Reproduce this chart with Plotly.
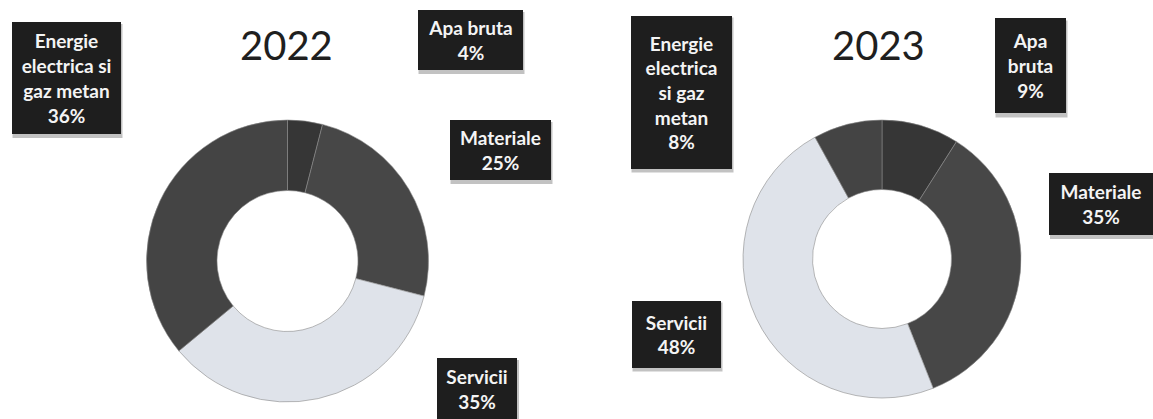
import plotly.graph_objects as go

W, H = 1153, 419

categories = ["Apa bruta", "Materiale", "Servicii", "Energie electrica si gaz metan"]
values_2022 = [4, 25, 35, 36]
values_2023 = [9, 35, 48, 8]

# how each label is wrapped inside its box (differs per year)
wrapped_2022 = ["Apa bruta", "Materiale", "Servicii", "Energie<br>electrica si<br>gaz metan"]
wrapped_2023 = ["Apa<br>bruta", "Materiale", "Servicii", "Energie<br>electrica<br>si gaz<br>metan"]

slice_colors = ["#363636", "#474747", "#dfe3ea", "#444444"]

# label boxes in pixels: centre x, centre y, width, height
boxes_2022 = [(470, 40, 105, 60), (500, 150, 101, 60), (477, 389, 80, 62), (66, 78, 109, 112)]
boxes_2023 = [(1030, 66, 71, 95), (1101, 204, 104, 62), (676, 334, 89, 67), (681, 92, 101, 153)]


def px_domain(cx, cy, r):
    return dict(x=[(cx - r) / W, (cx + r) / W], y=[1 - (cy + r) / H, 1 - (cy - r) / H])


fig = go.Figure()

for vals, dom in [(values_2022, px_domain(287.5, 261, 141)),
                  (values_2023, px_domain(882, 259, 139))]:
    fig.add_trace(go.Pie(
        labels=categories,
        values=vals,
        hole=0.5,
        sort=False,
        direction='clockwise',
        rotation=0,
        textinfo='none',
        hoverinfo='label+percent',
        marker=dict(colors=slice_colors, line=dict(color='#8a8a8a', width=0.6)),
        domain=dom,
        showlegend=False
    ))

annotations = []
for year, cx in [("2022", 286), ("2023", 878)]:
    annotations.append(dict(
        x=cx / W, y=1 - 45 / H, xref='paper', yref='paper',
        text=year, showarrow=False, xanchor='center', yanchor='middle',
        font=dict(family='Lato', size=40, color='#1f1f1f')
    ))

shapes = []
for wrapped, vals, boxes in [(wrapped_2022, values_2022, boxes_2022),
                             (wrapped_2023, values_2023, boxes_2023)]:
    for lab, v, (bx, by, bw, bh) in zip(wrapped, vals, boxes):
        # soft grey shadow under each label box, like the printed original
        shapes.append(dict(
            type='rect', xref='paper', yref='paper', layer='above',
            x0=(bx - bw / 2 + 1) / W, x1=(bx + bw / 2 + 2) / W,
            y0=1 - (by + bh / 2 + 4) / H, y1=1 - (by - bh / 2 + 2) / H,
            fillcolor='rgba(120,120,120,0.45)', line=dict(width=0)
        ))
        annotations.append(dict(
            x=bx / W, y=1 - by / H, xref='paper', yref='paper',
            text=f"<b>{lab}<br>{v}%</b>", showarrow=False,
            xanchor='center', yanchor='middle',
            width=bw, height=bh, borderpad=0, borderwidth=0,
            bgcolor='#1e1e1e', align='center', valign='middle',
            font=dict(family='Lato', size=19, color='#f4f4f4')
        ))

fig.update_layout(
    width=W, height=H,
    margin=dict(l=0, r=0, t=0, b=0),
    paper_bgcolor='white',
    plot_bgcolor='white',
    annotations=annotations,
    shapes=shapes
)

fig.write_html("out.html", config={'displayModeBar': False},
               post_script="document.body.style.margin='0';")
